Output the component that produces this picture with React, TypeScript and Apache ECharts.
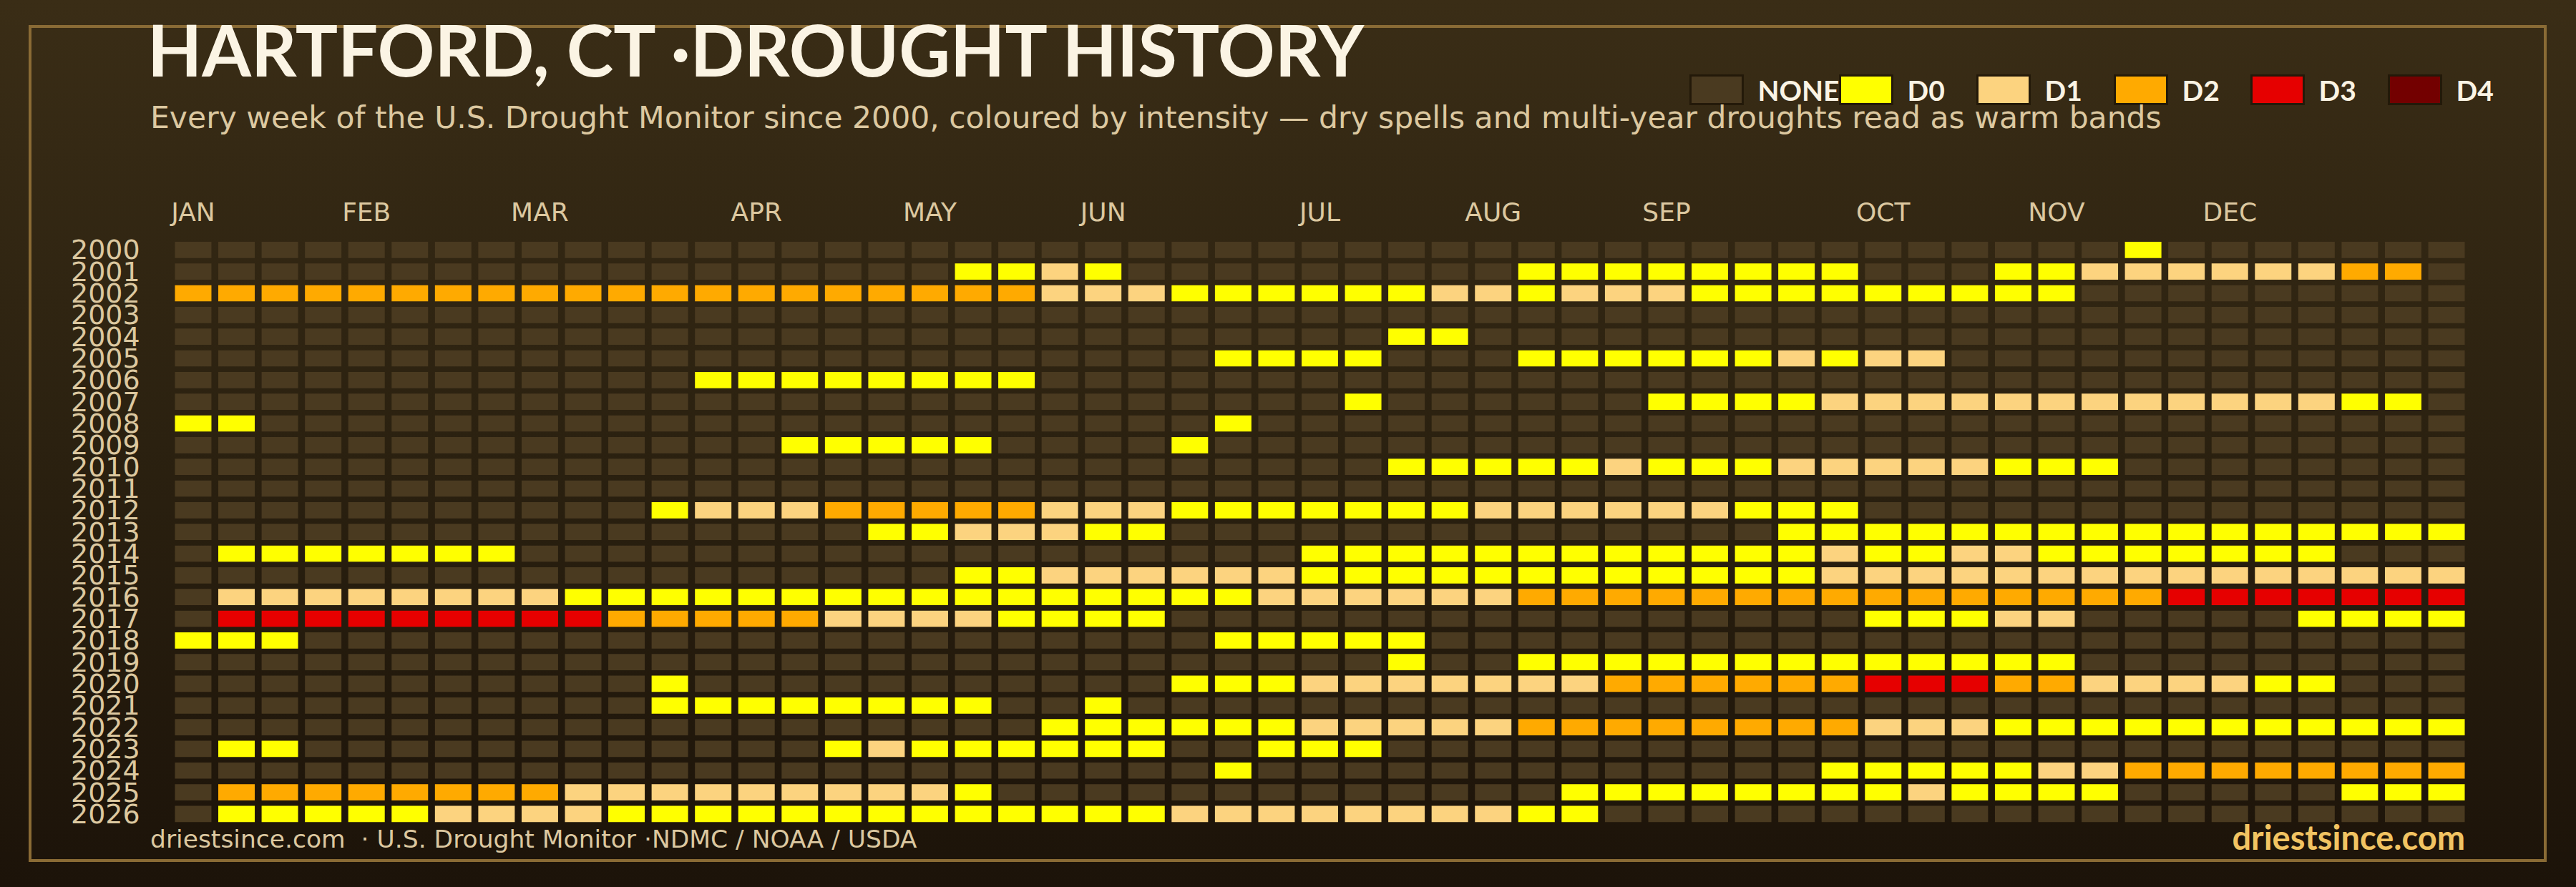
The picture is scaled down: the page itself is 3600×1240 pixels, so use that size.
import React, { useEffect, useRef } from 'react';
import * as echarts from 'echarts';

// ---------- data ----------
const years = [
  '2000', '2001', '2002', '2003', '2004', '2005', '2006', '2007', '2008', '2009',
  '2010', '2011', '2012', '2013', '2014', '2015', '2016', '2017', '2018', '2019',
  '2020', '2021', '2022', '2023', '2024', '2025', '2026',
];

// weekly drought level per year (53 weeks), grouped by 10 weeks:
// '.' = none, '0'..'4' = D0..D4
const weeklyIntensity = [
  '.......... .......... .......... .......... .....0.... ...', // 2000
  '.......... ........00 10........ .00000000. ..00111111 22.', // 2001
  '2222222222 2222222222 1110000001 1011100000 0000...... ...', // 2002
  '.......... .......... .......... .......... .......... ...', // 2003
  '.......... .......... ........00 .......... .......... ...', // 2004
  '.......... .......... ....0000.. .000000101 1......... ...', // 2005
  '.......... ..00000000 .......... .......... .......... ...', // 2006
  '.......... .......... .......0.. ....000011 1111111111 00.', // 2007
  '00........ .......... ....0..... .......... .......... ...', // 2008
  '.......... ....00000. ...0...... .......... .......... ...', // 2009
  '.......... .......... ........00 0001000111 11000..... ...', // 2010
  '.......... .......... .......... .......... .......... ...', // 2011
  '.......... .011122222 1110000000 111111000. .......... ...', // 2012
  '.......... ......0011 100....... .......000 0000000000 000', // 2013
  '.0000000.. .......... ......0000 0000000010 0110000000 ...', // 2014
  '.......... ........00 1111110000 0000000011 1111111111 111', // 2015
  '.111111110 0000000000 0000011111 1222222222 2222223333 333', // 2016
  '.333333333 2222211110 000....... .........0 0011.....0 000', // 2017
  '000....... .......... ....00000. .......... .......... ...', // 2018
  '.......... .......... ........0. .000000000 0000...... ...', // 2019
  '.......... .0........ ...0001111 1112222223 3322111100 ...', // 2020
  '.......... .00000000. .0........ .......... .......... ...', // 2021
  '.......... .......... 0000001111 1222222221 1100000000 000', // 2022
  '.00....... .....01000 000..000.. .......... .......... ...', // 2023
  '.......... .......... ....0..... ........00 0001122222 222', // 2024
  '.222222221 111111110. .......... ..00000000 10000..... 000', // 2025
  '.000001111 0000000000 0001111111 100....... .......... ...', // 2026
];

const levelNames = ['NONE', 'D0', 'D1', 'D2', 'D3', 'D4'];
const levelCodes = ['.', '0', '1', '2', '3', '4'];
const levelColors = ['#4a3a20', '#ffff00', '#fcd37f', '#ffaa00', '#e60000', '#730000'];

const monthNames = ['JAN', 'FEB', 'MAR', 'APR', 'MAY', 'JUN', 'JUL', 'AUG', 'SEP', 'OCT', 'NOV', 'DEC'];
const monthStartWeeks = [0, 4, 8, 13, 17, 21, 26, 30, 34, 39, 43, 47];
const weeks = Array.from({ length: 53 }, (_, i) => String(i + 1));

const TITLE = 'HARTFORD, CT ·DROUGHT HISTORY';
const SUBTITLE =
  'Every week of the U.S. Drought Monitor since 2000, coloured by intensity — dry spells and multi-year droughts read as warm bands';
const SOURCE = 'driestsince.com  · U.S. Drought Monitor ·NDMC / NOAA / USDA';
const BRAND = 'driestsince.com';

const legendLeft = [2361, 2570, 2762, 2954, 3145, 3337];

function buildSeriesData(code: string) {
  const out: number[][] = [];
  weeklyIntensity.forEach((row, yi) => {
    const cells = row.replace(/ /g, '');
    for (let w = 0; w < cells.length; w++) {
      if (cells[w] === code) out.push([w, yi]);
    }
  });
  return out;
}

export default function App() {
  const ref = useRef<HTMLDivElement>(null);

  useEffect(() => {
    document.body.style.margin = '0';
    if (!ref.current) return;
    const chart = echarts.init(ref.current, undefined, { renderer: 'svg' });

    const tan = '#dcc8a0';
    const cream = '#fbf4e4';

    const option: any = {
      animation: false,
      backgroundColor: new echarts.graphic.LinearGradient(0, 0, 0, 1, [
        { offset: 0, color: '#3a2d16' },
        { offset: 0.5, color: '#2b2110' },
        { offset: 1, color: '#1c1309' },
      ]),
      title: [
        {
          text: TITLE, left: 206, top: 19, padding: 0,
          textStyle: { fontFamily: 'Lato', fontWeight: 'bold', fontSize: 99, color: cream },
        },
        {
          text: SUBTITLE, left: 210, top: 143, padding: 0,
          textStyle: { fontFamily: 'DejaVu Sans', fontWeight: 'normal', fontSize: 42.5, color: tan },
        },
        {
          text: SOURCE, left: 210, top: 1155, padding: 0,
          textStyle: { fontFamily: 'DejaVu Sans', fontWeight: 'normal', fontSize: 34.5, color: tan },
        },
        {
          text: BRAND, right: 155, top: 1146, padding: 0,
          textStyle: { fontFamily: 'Lato', fontWeight: 'bold', fontSize: 47, color: '#f2c462' },
        },
      ],
      legend: levelNames.map((name, i) => ({
        data: [name],
        left: legendLeft[i],
        top: 104,
        padding: 0,
        itemWidth: 73,
        itemHeight: 40,
        icon: 'rect',
        selectedMode: false,
        itemStyle: { borderColor: '#231909', borderWidth: 3 },
        textStyle: {
          fontFamily: 'Lato', fontWeight: 'bold', fontSize: 39, color: cream,
          padding: [0, 0, 0, 16],
        },
      })),
      grid: { left: 239.7, right: 150.7, top: 334.2, bottom: 86.9 },
      xAxis: {
        type: 'category',
        position: 'top',
        data: weeks,
        boundaryGap: true,
        axisLine: { show: false },
        axisTick: { show: false },
        splitLine: { show: false },
        axisLabel: {
          interval: (idx: number) => monthStartWeeks.includes(idx),
          formatter: (_v: string, idx: number) => monthNames[monthStartWeeks.indexOf(idx)] ?? '',
          color: tan,
          fontFamily: 'DejaVu Sans',
          fontSize: 36,
          margin: 20,
        },
      },
      yAxis: {
        type: 'category',
        inverse: true,
        data: years,
        axisLine: { show: false },
        axisTick: { show: false },
        splitLine: { show: false },
        axisLabel: {
          interval: 0,
          color: tan,
          fontFamily: 'DejaVu Sans',
          fontSize: 38,
          lineHeight: 29,
          margin: 44,
        },
      },
      graphic: [
        {
          type: 'rect',
          silent: true,
          z: 0,
          shape: { x: 42, y: 37, width: 3515, height: 1166 },
          style: { fill: 'none', stroke: '#8a6b35', lineWidth: 4 },
        },
      ],
      series: levelNames.map((name, i) => ({
        name,
        type: 'custom',
        itemStyle: { color: levelColors[i] },
        data: buildSeriesData(levelCodes[i]),
        encode: { x: 0, y: 1 },
        renderItem: (_params: any, api: any) => {
          const c = api.coord([api.value(0), api.value(1)]);
          const s = api.size([1, 1]);
          const w = s[0] * 0.842;
          const h = s[1] * 0.748;
          return {
            type: 'rect',
            shape: { x: c[0] - w / 2, y: c[1] - h / 2, width: w, height: h },
            style: { fill: api.visual('color') },
          };
        },
      })),
    };

    chart.setOption(option);
    return () => chart.dispose();
  }, []);

  return <div ref={ref} style={{ width: 3600, height: 1240 }} />;
}
